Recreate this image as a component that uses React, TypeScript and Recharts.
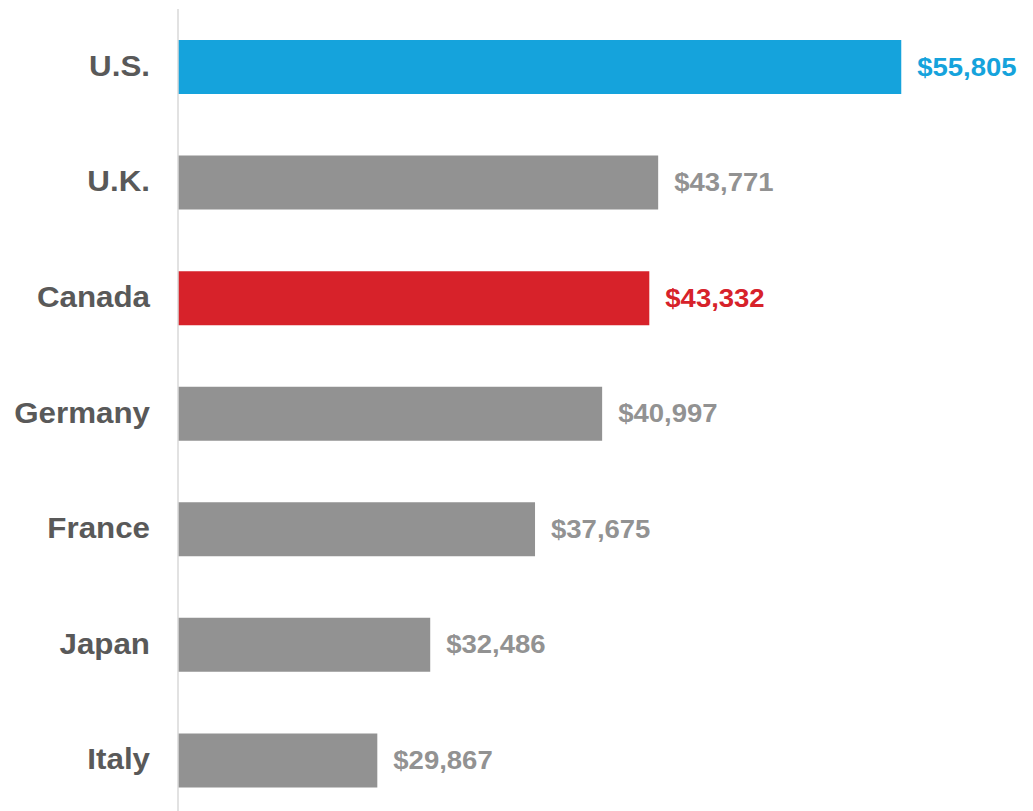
import React from 'react';
import { BarChart, Bar, XAxis, YAxis, Cell, LabelList } from 'recharts';

const countries = ['U.S.', 'U.K.', 'Canada', 'Germany', 'France', 'Japan', 'Italy'];
const values = [55805, 43771, 43332, 40997, 37675, 32486, 29867];
const barColors = ['#15A3DC', '#929292', '#D7222A', '#929292', '#929292', '#929292', '#929292'];
const valueLabels = ['$55,805', '$43,771', '$43,332', '$40,997', '$37,675', '$32,486', '$29,867'];
const xDomain = [20000, 60000];

const data = countries.map((c, i) => ({ country: c, value: values[i], label: valueLabels[i] }));

const FONT = '"Liberation Sans", Arial, sans-serif';

const CategoryTick = (props: any) => {
  const { x, y, payload } = props;
  return (
    <text
      transform={`translate(${x},${Number(y) - 1}) scale(1.08,1)`}
      textAnchor="end"
      dominantBaseline="central"
      fontFamily={FONT}
      fontWeight="bold"
      fontSize={29}
      fill="#595959"
    >
      {payload.value}
    </text>
  );
};

const ValueLabel = (props: any) => {
  const { x, y, width, height, index } = props;
  const tx = Number(x) + Number(width) + 16;
  const ty = Number(y) + Number(height) / 2;
  return (
    <text
      transform={`translate(${tx},${ty}) scale(1.1,1)`}
      textAnchor="start"
      dominantBaseline="central"
      fontFamily={FONT}
      fontWeight="bold"
      fontSize={25}
      fill={barColors[index]}
    >
      {valueLabels[index]}
    </text>
  );
};

export default function App() {
  return (
    <div style={{ position: 'absolute', left: 0, top: 0, width: 1033, height: 811, overflow: 'hidden', background: '#fff' }}>
      <BarChart
        width={1033}
        height={818}
        data={data}
        layout="vertical"
        margin={{ top: 9, right: 47, bottom: 0, left: 0 }}
      >
        <XAxis type="number" domain={xDomain} hide allowDataOverflow />
        <YAxis
          type="category"
          dataKey="country"
          width={178}
          tickLine={false}
          tickSize={0}
          tickMargin={28}
          axisLine={{ stroke: '#d9d9d9', strokeWidth: 1.5 }}
          tick={<CategoryTick />}
          interval={0}
        />
        <Bar dataKey="value" barSize={54} isAnimationActive={false}>
          {data.map((d, i) => (
            <Cell key={d.country} fill={barColors[i]} />
          ))}
          <LabelList dataKey="label" content={<ValueLabel />} />
        </Bar>
      </BarChart>
    </div>
  );
}
